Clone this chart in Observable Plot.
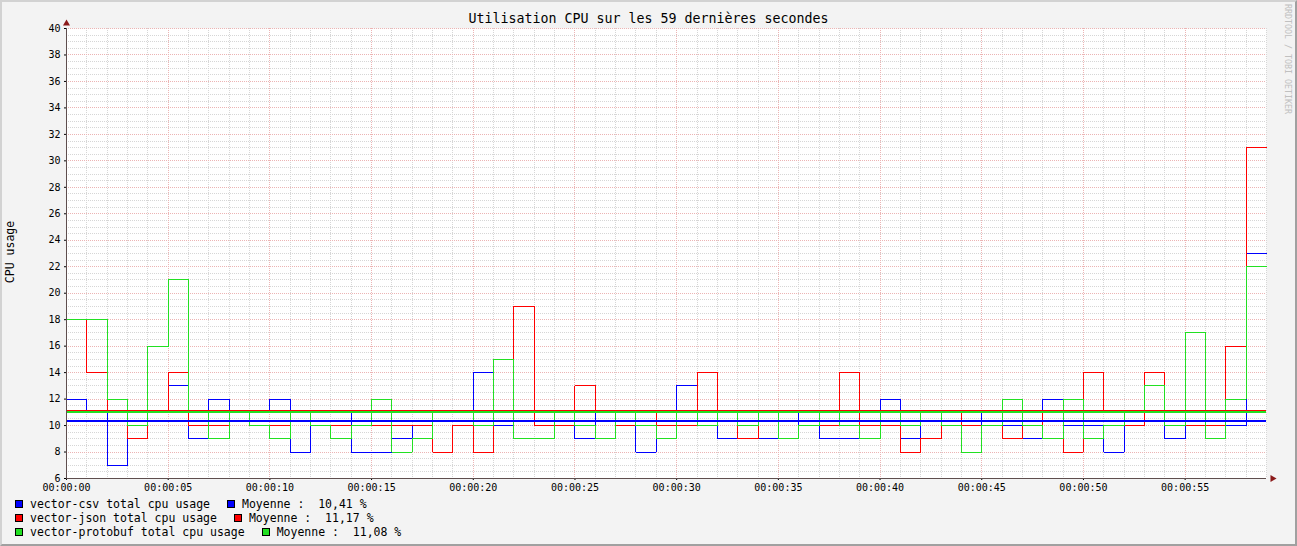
<!DOCTYPE html>
<html><head><meta charset="utf-8">
<script src="https://cdn.jsdelivr.net/npm/d3@7"></script>
<script src="https://cdn.jsdelivr.net/npm/@observablehq/plot@0.6"></script>
<style>
body{margin:0;background:#f3f3f3;}
#wrap{position:relative;width:1297px;height:546px;background:#f3f3f3;overflow:hidden;font-family:"DejaVu Sans Mono",monospace;color:#000;}
#frame{position:absolute;left:0;top:0;width:1297px;height:546px;box-sizing:border-box;border-top:2px solid #d2d2d2;border-left:2px solid #d2d2d2;border-right:2px solid #a0a0a0;border-bottom:2px solid #a0a0a0;pointer-events:none;}
#chart{position:absolute;left:0;top:0;}
#title{position:absolute;left:0;width:1297px;top:11px;text-align:center;font-size:13.3px;white-space:pre;}
#ylab{position:absolute;left:10px;top:252px;font-size:11.5px;transform:translate(-50%,-50%) rotate(-90deg);white-space:pre;}
#wm{position:absolute;left:1283px;top:4px;font-size:8.3px;color:#c0c0c0;writing-mode:vertical-rl;white-space:pre;}
.row{position:absolute;left:15px;font-size:11.5px;white-space:pre;height:14px;line-height:14px;display:flex;align-items:center;}
.sw{display:inline-block;width:6px;height:6px;border:1px solid #000;}
.t{margin-left:7px;}
.gap{margin-left:17px;}
</style></head>
<body>
<div id="wrap">
  <div id="chart"></div>
  <div id="title"></div>
  <div id="ylab"></div>
  <div id="wm">RRDTOOL / TOBI OETIKER</div>
  <div id="legend"></div>
  <div id="frame"></div>
</div>
<script>
// ---- data ----
const titleText = "Utilisation CPU sur les 59 dernières secondes";
const yLabel = "CPU usage";
const seriesNames = ["vector-csv total cpu usage", "vector-json total cpu usage", "vector-protobuf total cpu usage"];
const seriesColors = ["#0000ff", "#ff0000", "#22e022"];
const csv = [12,11,7,11,11,13,9,12,11,11, 12,8,11,11,8,8,9,10,11,11, 14,10,11,11,10,9,11,11,8,10, 13,11,9,9,9,11,10,9,9,9, 12,9,11,11,11,10,10,9,12,10, 10,8,11,11,9,10,10,10,23];
const json = [18,14,11,9,11,14,10,10,11,10, 10,11,10,10,10,10,10,10,8,10, 8,11,19,10,10,13,11,10,11,10, 10,14,11,9,11,11,11,10,14,10, 10,8,9,11,10,10,9,10,11,8, 14,11,10,14,10,10,10,16,31];
const protobuf = [18,18,12,10,16,21,11,9,11,10, 9,11,10,9,10,12,8,9,11,11, 10,15,9,9,11,10,9,11,10,9, 11,10,11,10,11,9,10,11,10,9, 11,10,11,10,8,10,12,10,9,12, 9,10,11,13,10,17,9,12,22];
const means = [10.41, 11.17, 11.08];
const meanLabel = "Moyenne :  ";
const yTicks = [6,8,10,12,14,16,18,20,22,24,26,28,30,32,34,36,38,40];
const xTicks = [0,5,10,15,20,25,30,35,40,45,50,55];
const duration = 59;

// ---- build ----
const allSeries = [csv, json, protobuf];
const stepData = allSeries.map(vals => {
  const pts = vals.map((v, i) => ({t: i, v}));
  pts.push({t: vals.length, v: vals[vals.length - 1]});
  return pts;
});
const yMinor = d3.range(yTicks[0], yTicks[yTicks.length-1] + 0.01, 0.5).filter(v => !yTicks.includes(v));
const xAll = d3.range(0, duration + 1);
const xMinor = xAll.filter(v => !xTicks.includes(v));
const xMajor = xTicks.filter(v => v > 0);

const minorStyle = {stroke: "#d6d6d6", strokeDasharray: "1,1", shapeRendering: "crispEdges"};
const majorStyle = {stroke: "#ecb4b4", strokeDasharray: "1,1", shapeRendering: "crispEdges"};
const axisColor = "#5e4e4e";

const marks = [
  Plot.frame({fill: "white", stroke: null}),
  Plot.ruleY(yMinor, minorStyle),
  Plot.ruleX(xMinor, minorStyle),
  Plot.ruleY(yTicks, majorStyle),
  Plot.ruleX(xMajor, majorStyle),
];
stepData.forEach((d, i) => {
  marks.push(Plot.line(d, {x: "t", y: "v", stroke: seriesColors[i], strokeWidth: 1, curve: "step-after", shapeRendering: "crispEdges"}));
});
means.forEach((m, i) => {
  marks.push(Plot.ruleY([m], {stroke: seriesColors[i], strokeWidth: 2, dy: 1, shapeRendering: "crispEdges"}));
});
marks.push(
  Plot.ruleX([0], {stroke: axisColor, shapeRendering: "crispEdges"}),
  Plot.ruleY([yTicks[0]], {stroke: axisColor, shapeRendering: "crispEdges"}),
  Plot.dot([{t: 0, v: yTicks[yTicks.length-1]}], {x: "t", y: "v", symbol: "triangle", r: 2.6, fill: "#8b1a1a", stroke: null, dy: -5}),
  Plot.dot([{t: duration, v: yTicks[0]}], {x: "t", y: "v", symbol: "triangle", r: 2.6, fill: "#8b1a1a", stroke: null, rotate: 90, dx: 6})
);

const plot = Plot.plot({
  width: 1297, height: 500,
  marginLeft: 66, marginRight: 31, marginTop: 28, marginBottom: 22,
  style: {background: "transparent", fontFamily: "DejaVu Sans Mono", fontSize: "10px", color: "#000", overflow: "visible"},
  x: {domain: [0, duration], ticks: xTicks, tickFormat: t => "00:00:" + String(t).padStart(2, "0"), tickSize: 2, tickPadding: 3, label: null},
  y: {domain: [yTicks[0], yTicks[yTicks.length-1]], ticks: yTicks, tickSize: 2, tickPadding: 4, label: null},
  marks
});
document.getElementById("chart").appendChild(plot);
document.getElementById("title").textContent = titleText;
document.getElementById("ylab").textContent = yLabel;

const legend = document.getElementById("legend");
seriesNames.forEach((name, i) => {
  const row = document.createElement("div");
  row.className = "row";
  row.style.top = (497 + i * 14) + "px";
  const meanTxt = meanLabel + means[i].toFixed(2).replace(".", ",") + " %";
  row.innerHTML = `<span class="sw" style="background:${seriesColors[i]}"></span><span class="t">${name}</span><span class="sw gap" style="background:${seriesColors[i]}"></span><span class="t">${meanTxt}</span>`;
  legend.appendChild(row);
});
</script>
</body></html>
